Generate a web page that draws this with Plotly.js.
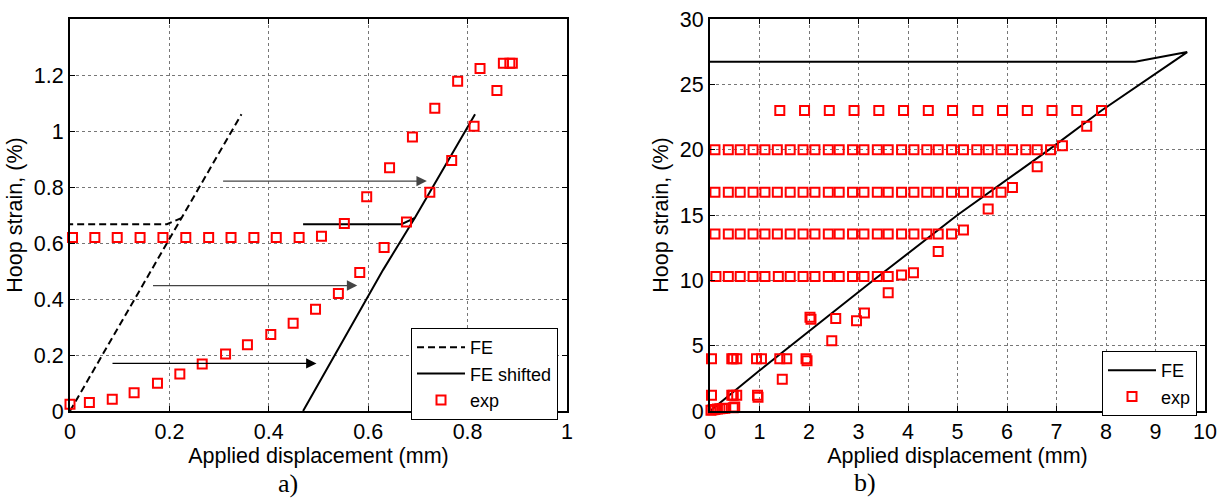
<!DOCTYPE html>
<html>
<head>
<meta charset="utf-8">
<script src="https://cdn.plot.ly/plotly-3.0.1.min.js"></script>
<style>html,body{margin:0;padding:0;background:#fff;}#chart{width:1224px;height:498px;}</style>
</head>
<body>
<div id="chart"></div>
<script>
// ---------- Panel a) data ----------
// FE (original), loading path and the unloading branch
const feAX = [0, 0.225, 0.345, null, 0.225, 0.195, 0];
const feAY = [0, 0.69, 1.06, null, 0.69, 0.667, 0.667];
// FE shifted
const feShiftX = [0.469, 0.598, 0.63, 0.694, 0.815, null, 0.694, 0.667, 0.469];
const feShiftY = [0, 0.40, 0.504, 0.69, 1.06, null, 0.69, 0.667, 0.667];
// experiment, panel a
const expAX = [0.005, 0.050, 0.095, 0.141, 0.187, 0.233, 0.279, 0.324, 0.370, 0.415, 0.461, 0.506, 0.552,
               0.000, 0.039, 0.085, 0.129, 0.176, 0.221, 0.266, 0.313, 0.357, 0.404, 0.449, 0.494, 0.540, 0.583,
               0.597, 0.643, 0.689, 0.734, 0.780, 0.825, 0.872, 0.885, 0.890,
               0.859, 0.813, 0.768, 0.724, 0.677, 0.632];
const expAY = [0.620, 0.620, 0.620, 0.620, 0.620, 0.620, 0.620, 0.620, 0.620, 0.620, 0.620, 0.624, 0.670,
               0.024, 0.030, 0.042, 0.065, 0.099, 0.132, 0.168, 0.204, 0.237, 0.273, 0.313, 0.363, 0.420, 0.495,
               0.765, 0.869, 0.979, 1.081, 1.178, 1.223, 1.242, 1.242, 1.242,
               1.145, 1.017, 0.895, 0.781, 0.675, 0.584];
// arrows in panel a: [x start, x end, y]
const arrowsA = [[0.305, 0.718, 0.821], [0.164, 0.578, 0.448], [0.0825, 0.496, 0.170]];
const arrowColors = ['#444444', '#444444', '#000000'];

// ---------- Panel b) data ----------
const feBX = [0, 1, 3.3, 5, 6.85, 7.91, 9.64, 8.59, 0];
const feBY = [0, 3.1, 10, 15, 20, 23.0, 27.47, 26.73, 26.73];

const row23X = [1.41, 1.91, 2.41, 2.91, 3.41, 3.91, 4.41, 4.90, 5.41, 5.91, 6.41, 6.91, 7.41, 7.91];
const row23Y = 23.0;
const row20X = [0.10, 0.37, 0.61, 0.87, 1.11, 1.36, 1.62, 1.88, 2.12, 2.39, 2.61, 2.88, 3.11, 3.38, 3.60, 3.87,
                4.12, 4.38, 4.61, 4.88, 5.12, 5.39, 5.62, 5.88, 6.11, 6.38, 6.61, 6.88];
const row20Y = 20.0;
const row17X = [0.10, 0.37, 0.61, 0.87, 1.11, 1.36, 1.62, 1.88, 2.12, 2.39, 2.61, 2.88, 3.11, 3.38, 3.60, 3.87,
                4.12, 4.38, 4.61, 4.88, 5.12, 5.39, 5.62, 5.88];
const row17Y = 16.75;
const row13X = [0.10, 0.37, 0.61, 0.87, 1.11, 1.36, 1.62, 1.88, 2.12, 2.39, 2.61, 2.88, 3.11, 3.38, 3.60, 3.87,
                4.12, 4.38, 4.61, 4.88];
const row13Y = 13.55;
const row10X = [0.12, 0.37, 0.61, 0.87, 1.11, 1.38, 1.62, 1.88, 2.12, 2.39, 2.61, 2.88, 3.11, 3.38, 3.60];
const row10Y = 10.3;
const row4X = [0.03, 0.44, 0.47, 0.54, 0.94, 1.04, 1.41, 1.55, 1.94];
const row4Y = 4.0;
const row1X = [0.03, 0.44, 0.47, 0.54, 0.96];
const row1Y = 1.2;
// remaining single points
const otherBX = [7.61, 7.12, 6.61, 6.11, 5.62, 5.12, 4.61, 3.87, 4.11, 3.60, 2.02, 2.04, 2.54, 2.46, 2.96, 3.12,
                 1.96, 1.46, 0.97, 0.02, 0.06, 0.10, 0.15, 0.20, 0.25, 0.30, 0.47, 0.50];
const otherBY = [21.8, 20.3, 18.7, 17.1, 15.45, 13.85, 12.2, 10.4, 10.58, 9.05, 7.17, 7.02, 7.07, 5.38, 6.91, 7.5,
                 3.85, 2.43, 1.05, 0.05, 0.10, 0.12, 0.15, 0.18, 0.20, 0.22, 0.25, 0.30];

const rowsB = [[row23X, row23Y], [row20X, row20Y], [row17X, row17Y], [row13X, row13Y],
               [row10X, row10Y], [row4X, row4Y], [row1X, row1Y]];
let expBX = [], expBY = [];
rowsB.forEach(([xs, yv]) => { xs.forEach(x => { expBX.push(x); expBY.push(yv); }); });
expBX = expBX.concat(otherBX);
expBY = expBY.concat(otherBY);

// ---------- styling ----------
const FONT = 'Liberation Sans, Arial, sans-serif';
const marker = {symbol: 'square-open', size: 9, color: '#ff0000', line: {width: 2, color: '#ff0000'}};

const traces = [
  {x: feAX, y: feAY, mode: 'lines', name: 'FE', line: {color: '#000', width: 2, dash: '7px,4px'},
   xaxis: 'x', yaxis: 'y', legend: 'legend', connectgaps: false},
  {x: feShiftX, y: feShiftY, mode: 'lines', name: 'FE shifted', line: {color: '#000', width: 2},
   xaxis: 'x', yaxis: 'y', legend: 'legend', connectgaps: false},
  {x: expAX, y: expAY, mode: 'markers', name: 'exp', marker: marker, xaxis: 'x', yaxis: 'y', legend: 'legend', cliponaxis: false},
  {x: feBX, y: feBY, mode: 'lines', name: 'FE', line: {color: '#000', width: 2},
   xaxis: 'x2', yaxis: 'y2', legend: 'legend2'},
  {x: expBX, y: expBY, mode: 'markers', name: 'exp', marker: marker, xaxis: 'x2', yaxis: 'y2', legend: 'legend2', cliponaxis: false}
];

const axisCommon = {
  showline: true, linecolor: '#000', linewidth: 2, mirror: 'ticks',
  ticks: 'inside', ticklen: 5, tickwidth: 1, tickcolor: '#000',
  showgrid: true, gridcolor: '#777', griddash: 'dot', gridwidth: 1,
  zeroline: false, tickfont: {family: FONT, size: 21.5, color: '#000'}
};
const Hw = 1224, Hh = 498;
const yDom = [(Hh - 411) / Hh, (Hh - 19) / Hh];

const annotations = arrowsA.map((a, i) => ({
  x: a[1], y: a[2], ax: a[0], ay: a[2], xref: 'x', yref: 'y', axref: 'x', ayref: 'y',
  text: '', showarrow: true, arrowhead: 2, arrowsize: 1.6, arrowwidth: 1.3, arrowcolor: arrowColors[i]
}));
const serif = {family: 'Liberation Serif, Times New Roman, serif', size: 26, color: '#000'};
annotations.push({text: 'a)', x: 288 / Hw, y: (Hh - 483) / Hh, xref: 'paper', yref: 'paper',
  showarrow: false, xanchor: 'center', yanchor: 'middle', font: serif});
annotations.push({text: 'b)', x: 865 / Hw, y: (Hh - 482) / Hh, xref: 'paper', yref: 'paper',
  showarrow: false, xanchor: 'center', yanchor: 'middle', font: serif});

const titleFont = {family: FONT, size: 21.5, color: '#000'};
const legendCommon = {xanchor: 'right', yanchor: 'top', bgcolor: '#fff', bordercolor: '#000', borderwidth: 1,
  font: {family: FONT, size: 18, color: '#000'}, tracegroupgap: 0, itemwidth: 48};
const layout = {
  width: Hw, height: Hh,
  margin: {l: 0, r: 0, t: 0, b: 0},
  paper_bgcolor: '#fff', plot_bgcolor: '#fff',
  font: {family: FONT, color: '#000'},
  xaxis: Object.assign({}, axisCommon, {domain: [70 / Hw, 567 / Hw], range: [0, 1], dtick: 0.2, anchor: 'y',
    title: {text: 'Applied displacement (mm)', font: titleFont, standoff: 3}}),
  yaxis: Object.assign({}, axisCommon, {domain: yDom, range: [0, 1.4], anchor: 'x',
    tickvals: [0, 0.2, 0.4, 0.6, 0.8, 1, 1.2], ticktext: ['0', '0.2', '0.4', '0.6', '0.8', '1', '1.2'],
    title: {text: 'Hoop strain, (%)', font: titleFont, standoff: 5}}),
  xaxis2: Object.assign({}, axisCommon, {domain: [710 / Hw, 1205 / Hw], range: [0, 10], dtick: 1, anchor: 'y2',
    title: {text: 'Applied displacement (mm)', font: titleFont, standoff: 3}}),
  yaxis2: Object.assign({}, axisCommon, {domain: yDom, range: [0, 30], dtick: 5, anchor: 'x2',
    title: {text: 'Hoop strain, (%)', font: titleFont, standoff: 5}}),
  legend: Object.assign({}, legendCommon, {x: 558 / Hw, y: (Hh - 328) / Hh}),
  legend2: Object.assign({}, legendCommon, {x: 1197 / Hw, y: (Hh - 351) / Hh}),
  annotations: annotations,
  showlegend: true
};

Plotly.newPlot('chart', traces, layout, {displayModeBar: false, staticPlot: true});
</script>
</body>
</html>
